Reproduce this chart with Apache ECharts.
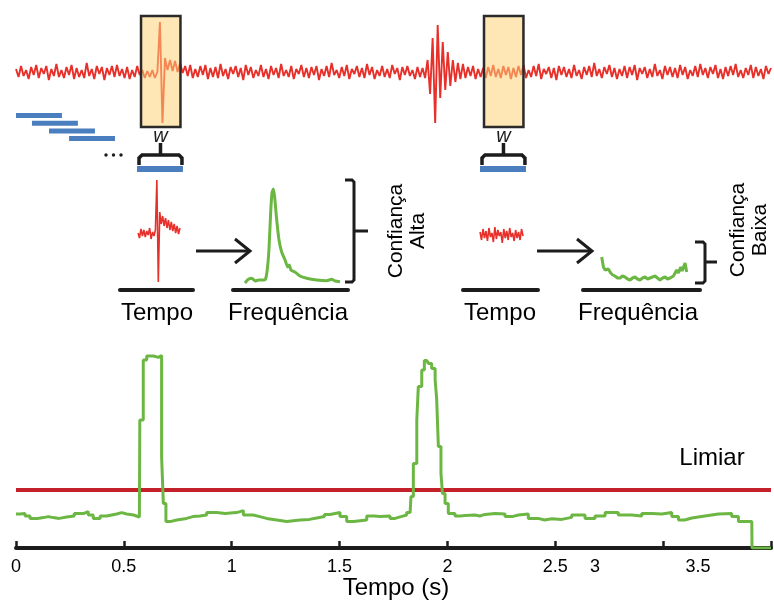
<!DOCTYPE html>
<html><head><meta charset="utf-8">
<script src="https://cdn.jsdelivr.net/npm/echarts@6/dist/echarts.min.js"></script>
<style>html,body{margin:0;padding:0;background:#fff}#c{width:774px;height:601px}</style>
</head><body><div id="c"></div>
<script>
// ---------- DATA ----------
// top raw signal (amplitude, 300 samples over 0..3.5 s)
const sinal = [
 3,-5,6,-4,2,-7,5,-3,7,-6,4,-2,6,-8,3,-4,8,-5,2,-6,
 5,-3,7,-7,4,-5,2,-6,9,-4,3,-7,6,-2,5,-8,4,-3,6,-5,
 7,-4,3,-6,5,-7,2,-5,6,-3,2,-6,1,-5,2,-6,0,50,-51,14,
 2,12,1,11,0,9,-1,6,-4,7,-6,3,-5,6,-3,7,-7,4,-5,5,
 -6,8,-4,3,-7,5,-2,6,-5,4,-8,7,-3,5,-6,2,-4,7,-5,3,
 -7,6,-3,4,-6,8,-4,2,-5,6,-7,3,-2,7,-5,4,-6,5,-3,6,
 -8,3,-4,6,-5,9,-3,2,-6,5,-4,7,-7,3,-2,6,-5,4,-6,8,
 -3,5,-7,2,-4,6,-5,3,-6,7,-2,4,-8,5,-3,6,-4,2,-7,5,
 -5,4,-6,12,-22,34,-51,47,-26,30,-18,20,-14,12,-10,9,-7,8,-6,5,
 -4,6,-7,3,-5,4,-6,5,-4,7,-5,3,-6,6,-3,5,-7,4,-5,6,
 -3,7,-6,2,-5,6,-4,8,-7,3,-2,5,-6,4,-8,6,-3,5,-5,3,
 -6,7,-4,2,-7,5,-3,6,-5,9,-4,3,-6,5,-2,7,-5,4,-7,3,
 -4,6,-6,5,-3,7,-8,4,-2,5,-6,3,-5,8,-4,2,-7,6,-3,5,
 -5,4,-6,7,-3,5,-7,2,-4,6,-5,8,-3,4,-6,5,-2,7,-6,3,
 -7,5,-4,6,-3,8,-5,2,-6,4,-3,7,-6,5,-4,3,-7,6,-2,4
];
const duracaoTotal = 3.5;             // s
const duracaoJanela = 0.213;          // s  (w)
const janelasDeslizantes = [0, 0.074, 0.153, 0.246];   // start times (s)
const janelasDestaque = [0.561, 2.151];                 // start times (s)

// windowed signals (samples)
const tempoAlta  = [57,52,61,54,60,53,59,55,62,51,58,54,60,110,8,78,66,74,64,72,62,70,60,68,59,66,57,64,56,62];
const tempoBaixa = [58,50,61,52,59,49,62,53,57,48,63,51,60,54,58,47,61,52,59,50,62,53,57,49,60,52,58,50,61,54];

// spectra [frequency, amplitude]
const freqAlta = [[0,7],[1.8,10.7],[3.6,11.7],[5.4,9],[7.2,10],[8.9,10],[10.7,10.5],[11.7,20],[12.6,40],[13.5,77],
 [14.2,97],[14.9,101],[15.6,93],[16.7,70],[17.9,50],[19.3,38],[21.1,30],[22.5,23],[23.3,25],[24.2,20],
 [26.3,18],[28.9,14],[32.5,11.7],[37.7,10],[43,9.3],[45.6,10.7],[47.4,9],[50,8.3]];
const freqBaixa = [[0,33],[1,23],[2,20],[3,22],[3.9,21],[5.3,17],[6.5,15],[7.8,14],[9.3,12],[10.8,12],[12.2,14],[13.7,13],
 [15.2,11],[16.7,10],[18.1,12],[19.6,13],[21,11],[22.5,10],[24,12],[25.5,13],[27,11],[28.4,12],[29.9,13],[31.4,14],
 [32.8,12],[34.3,10],[35.8,12],[37.3,13],[38.7,11],[40.2,12],[41.2,13],[42.2,14],[43.2,16],[44.1,20],[45.1,17],
 [46.5,23],[47.3,19],[48,21],[49,27],[50,18]];

// detection confidence over time [s, confidence]
const deteccao = [[0,0.17],[0.019,0.173],[0.042,0.16],[0.065,0.148],[0.1,0.152],[0.127,0.157],[0.15,0.152],[0.173,0.148],
 [0.2,0.155],[0.235,0.16],[0.27,0.172],[0.312,0.182],[0.335,0.165],[0.358,0.148],[0.39,0.16],[0.42,0.17],[0.467,0.177],
 [0.49,0.17],[0.513,0.165],[0.545,0.155],[0.572,0.148],[0.574,0.64],[0.59,0.94],[0.606,0.96],[0.637,0.953],[0.66,0.962],
 [0.675,0.457],[0.683,0.223],[0.695,0.132],[0.714,0.14],[0.745,0.148],[0.791,0.157],[0.82,0.16],[0.853,0.165],
 [0.884,0.177],[0.93,0.173],[0.97,0.176],[1.007,0.177],[1.023,0.187],[1.054,0.165],[1.1,0.157],[1.13,0.148],[1.162,0.14],
 [1.209,0.132],[1.255,0.14],[1.317,0.143],[1.36,0.15],[1.394,0.157],[1.43,0.168],[1.456,0.177],[1.502,0.157],
 [1.533,0.132],[1.565,0.136],[1.595,0.14],[1.626,0.16],[1.66,0.158],[1.688,0.16],[1.734,0.148],[1.757,0.157],
 [1.785,0.165],[1.811,0.177],[1.827,0.173],[1.831,0.257],[1.842,0.423],[1.858,0.64],[1.865,0.807],[1.881,0.89],
 [1.893,0.937],[1.904,0.932],[1.912,0.923],[1.927,0.898],[1.943,0.84],[1.95,0.748],[1.958,0.507],[1.97,0.373],
 [1.977,0.273],[1.989,0.223],[2.004,0.173],[2.035,0.16],[2.06,0.163],[2.082,0.165],[2.128,0.16],[2.15,0.168],
 [2.174,0.173],[2.221,0.17],[2.267,0.157],[2.3,0.165],[2.329,0.17],[2.375,0.148],[2.421,0.14],[2.45,0.146],
 [2.484,0.143],[2.53,0.153],[2.576,0.165],[2.638,0.148],[2.684,0.16],[2.731,0.177],[2.792,0.165],[2.854,0.16],
 [2.901,0.173],[2.947,0.17],[2.994,0.177],[3.04,0.157],[3.071,0.14],[3.1,0.15],[3.133,0.16],[3.194,0.17],
 [3.256,0.173],[3.318,0.157],[3.349,0.132],[3.388,0.132],[3.411,0.127],[3.412,0],[3.5,0]];
const limiar = 0.29;

// tick labels
const rotulosEixo = ['0','0.5','1','1.5','2','2.5'];
const rotulosExtras = [['3', 2.684], ['3.5', 3.162]];

// ---------- STYLE ----------
const FONT = '"Liberation Sans", Arial, sans-serif';
const RED = '#e8302a', GREEN = '#6cb744', BLUE = '#4a7ebf', INK = '#1c1c1c';

const chart = echarts.init(document.getElementById('c'), null, {renderer:'canvas'});

function miniX(idx, min, max){
  return {gridIndex: idx, type:'value', min, max, show:true,
    axisLine:{show:true, onZero:false, lineStyle:{color:INK, width:4}},
    axisTick:{show:false}, axisLabel:{show:false}, splitLine:{show:false}};
}
function hiddenY(idx, min, max){
  return {gridIndex: idx, type:'value', min, max, show:false, splitLine:{show:false}};
}

function renderDeslizante(params, api){
  const t0 = api.value(0);
  const p0 = api.coord([t0, 0]), p1 = api.coord([t0 + duracaoJanela, 0]);
  const y = 113 + params.dataIndex * 7.7;
  return {type:'rect', shape:{x:p0[0], y:y, width:p1[0]-p0[0], height:5}, style:{fill:BLUE}};
}
function renderDestaque(params, api){
  const t0 = api.value(0);
  const p0 = api.coord([t0, 0]), p1 = api.coord([t0 + duracaoJanela, 0]);
  const x0 = p0[0], x1 = p1[0], xc = (x0 + x1) / 2 + 0.5;
  return {type:'group', children:[
    {type:'rect', shape:{x:x0+4, y:16, width:(x1-x0)-6.5, height:111},
      style:{fill:'rgba(253,210,120,0.55)', stroke:'#2a2a2a', lineWidth:2.5}},
    {type:'text', style:{text:'w', x:xc, y:136, align:'center', verticalAlign:'middle',
      font:'italic 20px ' + FONT, fill:INK}},
    {type:'polyline', shape:{points:[[x0+2,165],[x0+2,158],[x0+5,155],[x1-4,155],[x1-1,158],[x1-1,165]]},
      style:{stroke:INK, lineWidth:3.5, fill:null}},
    {type:'line', shape:{x1:xc, y1:156, x2:xc, y2:143}, style:{stroke:INK, lineWidth:3.5}},
    {type:'rect', shape:{x:x0, y:166, width:x1-x0, height:6}, style:{fill:BLUE}}
  ]};
}

const dt = duracaoTotal / (sinal.length - 1);

const option = {
  animation:false,
  backgroundColor:'#fff',
  grid:[
    {left:16, top:0, width:755, height:180},
    {left:120, top:170, width:73, height:120},
    {left:233, top:170, width:115, height:120},
    {left:463, top:170, width:75, height:120},
    {left:583, top:170, width:117, height:120},
    {left:16, top:348, width:755, height:200}
  ],
  xAxis:[
    {gridIndex:0, type:'value', min:0, max:duracaoTotal, show:false},
    miniX(1, -12.5, 38),
    miniX(2, -6.3, 54.2),
    miniX(3, -11.5, 39.1),
    miniX(4, -11, 57.8),
    {gridIndex:5, type:'value', min:0, max:duracaoTotal, interval:0.5,
      axisLine:{show:true, onZero:false, lineStyle:{color:INK, width:4}},
      axisTick:{show:true, inside:true, length:7, lineStyle:{color:INK, width:2.5}},
      axisLabel:{show:true, margin:10, color:'#000', fontSize:18, fontFamily:FONT,
        formatter:(v)=>{ const s = String(v); return rotulosEixo.indexOf(s) >= 0 ? s : ''; }},
      splitLine:{show:false}}
  ],
  yAxis:[
    hiddenY(0, -108, 72),
    hiddenY(1, 0, 120),
    hiddenY(2, 0, 120),
    hiddenY(3, 0, 120),
    hiddenY(4, 0, 120),
    hiddenY(5, 0, 1)
  ],
  series:[
    {type:'line', xAxisIndex:0, yAxisIndex:0, z:2, symbol:'none', sampling:null,
      data: sinal.map((v,i)=>[i*dt, v]), lineStyle:{color:RED, width:1.9}},
    {type:'custom', xAxisIndex:0, yAxisIndex:0, z:3, renderItem:renderDeslizante,
      data: janelasDeslizantes.map(t=>[t, 0])},
    {type:'custom', xAxisIndex:0, yAxisIndex:0, z:5, renderItem:renderDestaque,
      data: janelasDestaque.map(t=>[t, 0])},
    {type:'line', xAxisIndex:1, yAxisIndex:1, symbol:'none',
      data: tempoAlta.map((v,i)=>[i, v]), lineStyle:{color:RED, width:1.6}},
    {type:'line', xAxisIndex:2, yAxisIndex:2, symbol:'none', smooth:0.2,
      data: freqAlta, lineStyle:{color:GREEN, width:3}},
    {type:'line', xAxisIndex:3, yAxisIndex:3, symbol:'none',
      data: tempoBaixa.map((v,i)=>[i, v]), lineStyle:{color:RED, width:1.6}},
    {type:'line', xAxisIndex:4, yAxisIndex:4, symbol:'none',
      data: freqBaixa, lineStyle:{color:GREEN, width:3}},
    {type:'line', xAxisIndex:5, yAxisIndex:5, symbol:'none', z:3,
      data: [[0, limiar], [duracaoTotal, limiar]], lineStyle:{color:'#c4202a', width:4}},
    {type:'line', xAxisIndex:5, yAxisIndex:5, symbol:'none', step:'end', z:4,
      data: deteccao, lineStyle:{color:GREEN, width:3}}
  ],
  graphic:[]
};
chart.setOption(option);

// ---------- annotations ----------
function txt(text, x, y, size, extra){
  return Object.assign({type:'text', x:x, y:y, silent:true,
    style:{text:text, fill:'#000', align:'center', verticalAlign:'middle', font: size + 'px ' + FONT}}, extra||{});
}
const g = [];
g.push(txt('Tempo', 157, 313, 24));
g.push(txt('Frequência', 288, 313, 24));
g.push(txt('Tempo', 500, 313, 24));
g.push(txt('Frequência', 638, 313, 24));
g.push(txt('Limiar', 712, 458, 24));
g.push(txt('Tempo (s)', 396, 588, 24));
g.push({type:'text', x:407, y:231, rotation:Math.PI/2, silent:true,
  style:{text:'Confiança\nAlta', fill:'#000', align:'center', verticalAlign:'middle', font:'21px ' + FONT, lineHeight:22}});
g.push({type:'text', x:749, y:230, rotation:Math.PI/2, silent:true,
  style:{text:'Confiança\nBaixa', fill:'#000', align:'center', verticalAlign:'middle', font:'21px ' + FONT, lineHeight:22}});
// arrows
[[196,250],[537,592]].forEach(([a,b])=>{
  g.push({type:'line', shape:{x1:a, y1:251, x2:b, y2:251}, style:{stroke:INK, lineWidth:3}});
  g.push({type:'polyline', shape:{points:[[b-15,239],[b,251],[b-15,263]]}, style:{stroke:INK, lineWidth:3, fill:null}});
});
// confidence brackets
g.push({type:'polyline', shape:{points:[[345,180],[352,180],[354,182],[354,280],[352,282],[345,282]]}, style:{stroke:INK, lineWidth:3, fill:null}});
g.push({type:'line', shape:{x1:354, y1:231, x2:368, y2:231}, style:{stroke:INK, lineWidth:3}});
g.push({type:'polyline', shape:{points:[[695,242],[703,242],[705,244],[705,281],[703,283],[695,283]]}, style:{stroke:INK, lineWidth:3, fill:null}});
g.push({type:'line', shape:{x1:705, y1:262, x2:717, y2:262}, style:{stroke:INK, lineWidth:3}});
// ellipsis dots
[106,113.5,121].forEach(x=>g.push({type:'circle', shape:{cx:x, cy:155, r:1.7}, style:{fill:INK}}));
// extra axis labels placed through the bottom axis scale
rotulosExtras.forEach(([s,t])=>{
  const px = chart.convertToPixel({xAxisIndex:5}, t);
  g.push(txt(s, px, 567, 18));
});
chart.setOption({graphic:g});
</script>
</body></html>
